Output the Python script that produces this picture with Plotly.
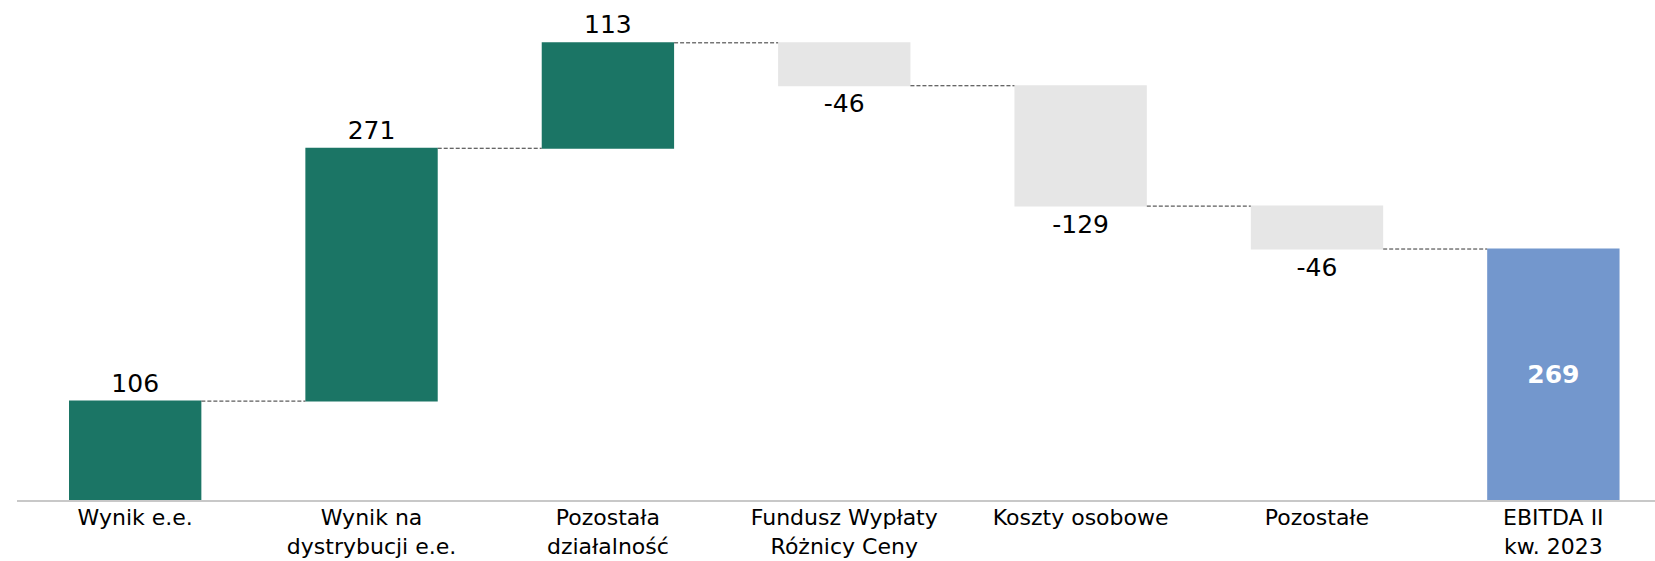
import plotly.graph_objects as go

categories = ["Wynik e.e.", "Wynik na<br>dystrybucji e.e.", "Pozostała<br>działalność",
              "Fundusz Wypłaty<br>Różnicy Ceny", "Koszty osobowe", "Pozostałe", "EBITDA II<br>kw. 2023"]
values = [106, 271, 113, -46, -129, -46, 269]
measures = ["relative", "relative", "relative", "relative", "relative", "relative", "total"]
labels = ["106", "271", "113", "-46", "-129", "-46", "<b>269</b>"]
text_pos = ["outside"] * 6 + ["inside"]

fig = go.Figure(go.Waterfall(
    x=categories,
    y=values,
    measure=measures,
    text=labels,
    textposition=text_pos,
    insidetextanchor="middle",
    textfont=dict(family="DejaVu Sans", size=25, color="black"),
    insidetextfont=dict(family="DejaVu Sans", size=25, color="white"),
    outsidetextfont=dict(family="DejaVu Sans", size=25, color="black"),
    increasing=dict(marker=dict(color="#1B7565")),
    decreasing=dict(marker=dict(color="#E6E6E6")),
    totals=dict(marker=dict(color="#7397CD")),
    connector=dict(mode="between", line=dict(color="#333333", width=1, dash="4px,2px")),
    cliponaxis=False,
    hoverinfo="skip",
))

fig.update_layout(
    width=1655, height=561,
    margin=dict(l=17, r=0, t=13, b=61, autoexpand=False),
    paper_bgcolor="white", plot_bgcolor="white",
    showlegend=False,
    waterfallgap=0.44,
    font=dict(family="DejaVu Sans", size=22, color="black"),
)
fig.update_xaxes(
    type="category",
    range=[-0.5, 6.43],
    automargin=False,
    showline=True, linecolor="#C8C8C8", linewidth=2,
    showgrid=False, ticks="", ticklabelstandoff=-3,
    tickfont=dict(family="DejaVu Sans", size=22, color="black"),
)
fig.update_yaxes(range=[0, 487 / 0.933], automargin=False, visible=False,
                 showgrid=False, zeroline=False)

fig.write_html(
    "out.html",
    config={"displayModeBar": False},
    post_script="document.body.style.margin='0';document.body.style.overflow='hidden';",
)
